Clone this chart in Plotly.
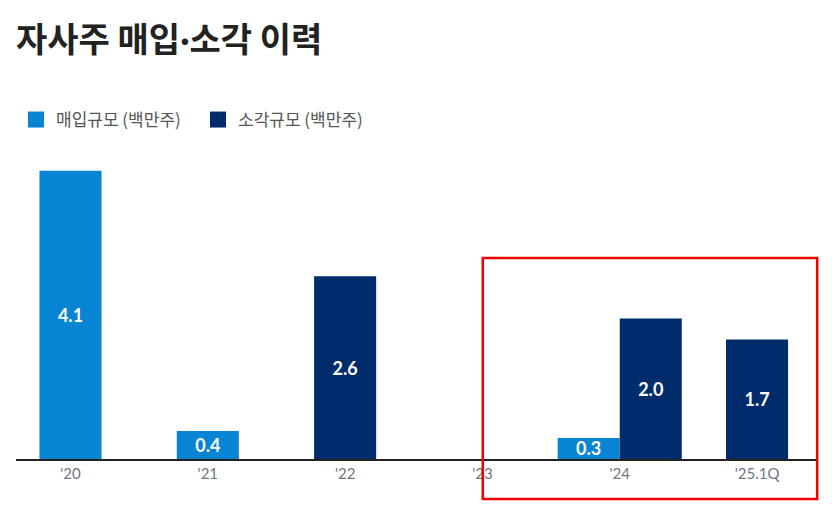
import plotly.graph_objects as go

# 자사주 매입·소각 이력 (백만주)
years = ["'20", "'21", "'22", "'23", "'24", "'25.1Q"]
buyback = [4.1, 0.4, None, None, 0.3, None]   # 매입규모
retired = [None, None, 2.6, None, 2.0, 1.7]   # 소각규모

BLUE = "#0784d2"
NAVY = "#002c6b"
BAR_W = 0.452
KR = "Noto Sans CJK KR"


def offsets(mine, other, side):
    # bars sit side by side only when both values exist, otherwise centred
    out = []
    for a, b in zip(mine, other):
        if a is not None and b is not None:
            out.append(-BAR_W if side == "left" else 0)
        else:
            out.append(-BAR_W / 2)
    return out


def labels(vals):
    return [f"{v:.1f}" if v is not None else "" for v in vals]


fig = go.Figure()
for name, vals, other, side, color in [
    ("매입규모 (백만주)", buyback, retired, "left", BLUE),
    ("소각규모 (백만주)", retired, buyback, "right", NAVY),
]:
    fig.add_bar(
        x=years,
        y=vals,
        width=BAR_W,
        offset=offsets(vals, other, side),
        marker={"color": color, "line": {"width": 0}},
        text=labels(vals),
        textposition="inside",
        insidetextanchor="middle",
        textfont={"family": "Lato", "size": 18, "color": "white", "weight": "bold"},
        showlegend=False,
        hoverinfo="skip",
    )
    # legend-only entry with a larger square swatch
    fig.add_scatter(
        x=[None],
        y=[None],
        mode="markers",
        name=name,
        marker={"symbol": "square", "size": 16, "color": color},
    )

fig.add_shape(
    type="rect",
    xref="paper",
    yref="paper",
    x0=0.582,
    x1=0.999,
    y0=-0.134,
    y1=0.672,
    line={"color": "#ee0000", "width": 2.5},
)

fig.update_layout(
    width=832,
    height=510,
    margin={"l": 16, "r": 14, "t": 160, "b": 51},
    paper_bgcolor="white",
    plot_bgcolor="white",
    barmode="overlay",
    uniformtext={"mode": "show", "minsize": 18},
    title={
        "text": "<b>자사주 매입<span style='font-family:Lato'>·</span>소각 이력</b>",
        "font": {"family": KR, "size": 34, "color": "#222222"},
        "xref": "container",
        "yref": "container",
        "x": 16 / 832,
        "xanchor": "left",
        "y": 1 - 40 / 510,
        "yanchor": "middle",
    },
    legend={
        "orientation": "h",
        "xref": "container",
        "yref": "container",
        "x": 16 / 832,
        "xanchor": "left",
        "y": 1 - 102 / 510,
        "yanchor": "top",
        "font": {"family": KR, "size": 17, "color": "#555555"},
        "itemwidth": 30,
        "entrywidth": 137,
        "entrywidthmode": "pixels",
        "tracegroupgap": 0,
    },
    xaxis={
        "type": "category",
        "range": [-0.397, 5.444],
        "showgrid": False,
        "showline": True,
        "linecolor": "#222222",
        "linewidth": 2,
        "ticks": "",
        "tickfont": {"family": "Lato", "size": 15, "color": "#6b7682"},
        "zeroline": False,
        "fixedrange": True,
    },
    yaxis={
        "range": [0, 4.253],
        "visible": False,
        "fixedrange": True,
    },
)

fig.write_html(
    "out.html",
    config={"displayModeBar": False},
    post_script="document.body.style.margin = '0';",
)
